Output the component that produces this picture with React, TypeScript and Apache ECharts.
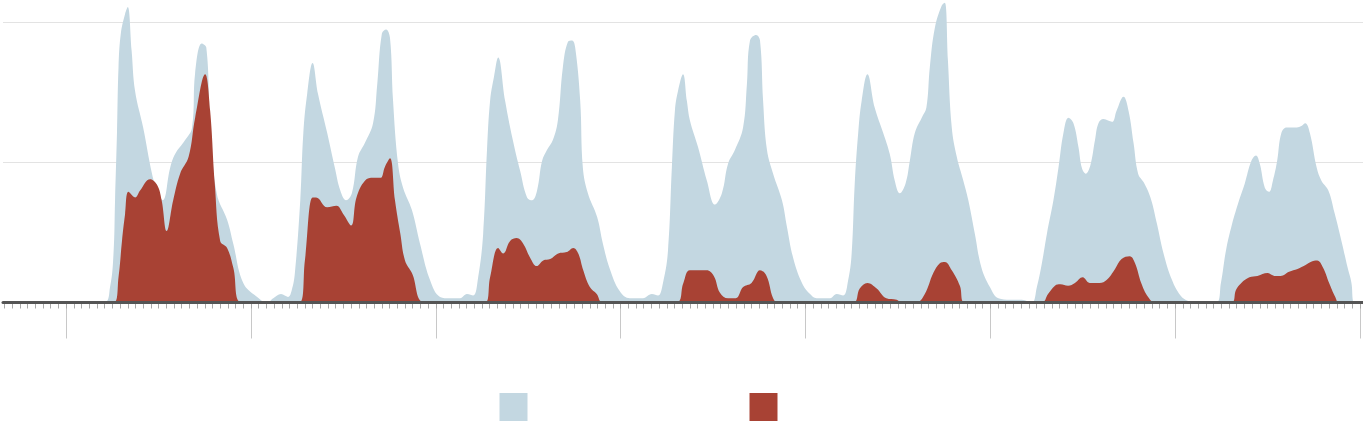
import React, { useEffect, useRef } from "react";
import * as echarts from "echarts";

// x values are hours from the first labelled day boundary; y in arbitrary units (gridlines at 100, 200)
const majorTicks = [0, 24, 48, 72, 96, 120, 144, 168];
const gridValues = [0, 100, 200];
const xMin = -8.2;
const xMax = 168.4;
const yMax = 216;

const seriesNames = ["Total", "Subset"];

const totalSeries: [number, number][] = [
  [-8, 0], [4.9, 0], [5.7, 11], [6.15, 35], [6.35, 73], [6.6, 121], [6.8, 168], [7.1, 192], [7.65, 206], [8.0, 211],
  [8.5, 180], [8.95, 151], [10.0, 125], [11.15, 92], [11.8, 80], [12.55, 73], [13.5, 96], [14.15, 106], [15.45, 116],
  [16.35, 125], [16.75, 164], [17.6, 185], [18.2, 182], [18.7, 130], [19.55, 78], [20.9, 59], [21.7, 42], [23.0, 14],
  [24.8, 4], [26.1, 0], [26.9, 3], [27.9, 6], [28.8, 4], [29.3, 9], [29.7, 21], [30.4, 73], [30.8, 121], [31.3, 149],
  [32.0, 171], [32.7, 149], [33.9, 121], [34.9, 96], [35.6, 80], [36.35, 73], [37.1, 78], [37.9, 104], [38.8, 114],
  [39.85, 128], [40.4, 156], [41.0, 192], [41.55, 195], [42.05, 189], [42.45, 144], [43.1, 99], [43.75, 82], [44.9, 66],
  [45.95, 42], [47.25, 16], [48.55, 4], [49.85, 3], [51.15, 3], [52.05, 6], [52.85, 5], [53.5, 18], [54.15, 49],
  [54.65, 109], [55.05, 144], [55.55, 161], [56.1, 175], [57.0, 144], [58.0, 116], [58.95, 94], [59.85, 75], [60.5, 73],
  [61.15, 80], [61.8, 101], [62.45, 109], [63.2, 116], [63.85, 130], [64.5, 168], [65.15, 186], [65.7, 187], [66.1, 182],
  [66.75, 144], [67.1, 96], [67.75, 78], [68.95, 61], [69.7, 42], [70.6, 24], [71.9, 8], [73.2, 3], [74.9, 3], [76.05, 6],
  [76.85, 5], [77.5, 14], [78.15, 37], [78.65, 96], [79.05, 137], [79.45, 151], [80.1, 163], [80.6, 144], [81.0, 130],
  [82.05, 111], [83.2, 87], [84.25, 70], [85.15, 78], [85.95, 99], [86.85, 109], [87.9, 125], [88.4, 156], [88.8, 187],
  [89.6, 191], [90.1, 187], [90.5, 144], [91.0, 109], [91.8, 92], [92.95, 73], [93.6, 54], [94.4, 32], [95.55, 14],
  [96.6, 6], [97.45, 3], [99.2, 3], [100.05, 6], [100.9, 5], [101.55, 16], [102.0, 35], [102.4, 85], [102.85, 121],
  [103.3, 144], [104.05, 163], [105.0, 139], [106.1, 121], [106.95, 106], [107.6, 87], [108.25, 78], [109.0, 85],
  [109.55, 101], [110.2, 121], [111.1, 132], [111.7, 139], [112.15, 168], [112.8, 196], [113.7, 212], [114.1, 214],
  [114.5, 173], [115.0, 125], [115.65, 104], [116.5, 87], [117.15, 73], [118.0, 49], [118.85, 25], [119.95, 11],
  [121.05, 3], [122.6, 2], [124.1, 2], [125.4, 0], [126.05, 11], [126.7, 28], [127.35, 49], [128.2, 73], [128.85, 96],
  [129.5, 121], [130.15, 132], [130.8, 128], [131.45, 111], [131.9, 96], [132.4, 92], [133.0, 98], [133.6, 116],
  [134.05, 128], [134.7, 131], [135.8, 129], [136.4, 137], [137.3, 147], [137.95, 137], [138.6, 114], [139.2, 92],
  [139.9, 86], [140.8, 75], [141.65, 56], [142.5, 35], [143.6, 16], [144.7, 5], [145.7, 1], [146.5, 0], [149.3, 0],
  [149.95, 14], [150.6, 37], [151.3, 54], [152.2, 71], [153.05, 85], [153.9, 101], [154.5, 105], [155.0, 99],
  [155.65, 82], [156.2, 79], [156.7, 87], [157.25, 101], [157.8, 121], [158.5, 125], [159.8, 125], [160.4, 126],
  [160.9, 128], [161.5, 121], [162.4, 96], [163.0, 87], [163.9, 80], [164.7, 64], [165.6, 44], [166.4, 25], [166.9, 14],
  [167.1, 1], [167.3, 0], [168.4, 0],
];

const subsetSeries: [number, number][] = [
  [-8, 0], [6.2, 0], [6.8, 18], [7.25, 44], [7.65, 63], [8.1, 79], [8.95, 75], [9.6, 80], [10.9, 88], [11.8, 84],
  [12.4, 73], [13.05, 51], [13.9, 73], [14.8, 92], [15.9, 104], [16.75, 132], [18.05, 163], [18.7, 137], [19.3, 85],
  [20.0, 44], [20.9, 39], [21.7, 25], [22.8, 0], [30.3, 0], [31.0, 30], [32.0, 75], [32.45, 75], [33.9, 68], [35.1, 69],
  [36.0, 63], [37.0, 55], [37.7, 75], [38.8, 87], [39.9, 89], [40.8, 89], [41.4, 97], [42.05, 103], [42.7, 73],
  [43.4, 49], [44.0, 30], [44.9, 21], [46.6, 0], [54.4, 0], [55.05, 18], [56.1, 39], [56.75, 35], [57.65, 44],
  [58.5, 46], [59.35, 42], [60.25, 32], [61.1, 26], [61.95, 30], [62.85, 31], [63.9, 35], [65.0, 36], [65.85, 39],
  [66.5, 35], [67.15, 23], [68.0, 11], [68.9, 6], [69.65, 0], [79.2, 0], [80.15, 14], [81.0, 23], [83.15, 23],
  [84.1, 19], [84.9, 7], [85.95, 3], [86.95, 3], [87.9, 11], [89.0, 14], [90.1, 23], [90.95, 19], [91.8, 3], [92.4, 0],
  [102.2, 0], [103.05, 10], [104.05, 14], [105.25, 10], [106.5, 3], [107.85, 2], [108.5, 0], [110.4, 0], [111.5, 6],
  [112.6, 21], [113.45, 28], [114.1, 29], [115.0, 23], [116.05, 12], [116.7, 0], [126.7, 0], [127.5, 6], [128.4, 12],
  [129.1, 13], [130.1, 12], [131.0, 14], [132.0, 18], [132.9, 14], [134.2, 14], [135.1, 16], [136.2, 24], [137.05, 31],
  [138.1, 33], [138.8, 28], [139.6, 14], [140.5, 4], [141.4, 0], [151.3, 0], [151.9, 9], [152.6, 14], [153.65, 18],
  [154.7, 19], [156.0, 21], [156.9, 19], [157.7, 19], [158.8, 22], [159.9, 24], [160.7, 26], [161.6, 29], [162.45, 30],
  [163.2, 25], [164.0, 14], [164.8, 4], [165.3, 0], [168.4, 0],
];

const BLUE = "#c3d7e1";
const RED = "#a84234";

export default function App() {
  const ref = useRef<HTMLDivElement>(null);
  useEffect(() => {
    document.body.style.margin = "0";
    if (!ref.current) return;
    const chart = echarts.init(ref.current, undefined, { renderer: "svg" });
    const hourTicks: number[] = [];
    for (let h = -8; h <= 168; h++) hourTicks.push(h);
    const baseX = {
      type: "value" as const,
      min: xMin,
      max: xMax,
      position: "bottom" as const,
      axisLabel: { show: false },
      splitLine: { show: false },
    };
    chart.setOption({
      animation: false,
      grid: { left: 3, right: 0, top: 0, bottom: 119.5, containLabel: false },
      xAxis: [
        {
          ...baseX,
          axisLine: { show: false },
          axisTick: { show: true, customValues: majorTicks, length: 36, lineStyle: { color: "#c8c8c8", width: 1 } },
        },
        {
          ...baseX,
          axisLine: { show: false },
          axisTick: { show: true, customValues: hourTicks, length: 6, lineStyle: { color: "#aaaaaa", width: 1 } },
        },
        {
          ...baseX,
          z: 10,
          axisLine: { show: true, lineStyle: { color: "#555555", width: 3 } },
          axisTick: { show: false },
        },
      ],
      yAxis: {
        type: "value",
        min: 0,
        max: yMax,
        axisLine: { show: false },
        axisTick: { show: false, customValues: gridValues },
        axisLabel: { show: false, customValues: gridValues },
        splitLine: { show: true, lineStyle: { color: "#e3e3e3", width: 1 } },
      },
      legend: [
        {
          data: [seriesNames[0]],
          left: 499.5,
          top: 393,
          padding: 0,
          itemWidth: 28,
          itemHeight: 28,
          icon: "rect",
          selectedMode: false,
          formatter: () => "",
        },
        {
          data: [seriesNames[1]],
          left: 749.5,
          top: 393,
          padding: 0,
          itemWidth: 28,
          itemHeight: 28,
          icon: "rect",
          selectedMode: false,
          formatter: () => "",
        },
      ],
      series: [
        {
          name: seriesNames[0],
          type: "line",
          xAxisIndex: 0,
          data: totalSeries,
          smooth: 0.4,
          showSymbol: false,
          symbol: "none",
          silent: true,
          color: BLUE,
          lineStyle: { width: 0, color: BLUE },
          areaStyle: { color: BLUE, opacity: 1 },
          z: 2,
        },
        {
          name: seriesNames[1],
          type: "line",
          xAxisIndex: 0,
          data: subsetSeries,
          smooth: 0.4,
          showSymbol: false,
          symbol: "none",
          silent: true,
          color: RED,
          lineStyle: { width: 0, color: RED },
          areaStyle: { color: RED, opacity: 1 },
          z: 3,
        },
      ],
    });
    return () => chart.dispose();
  }, []);
  return <div ref={ref} style={{ width: 1363, height: 422 }} />;
}
